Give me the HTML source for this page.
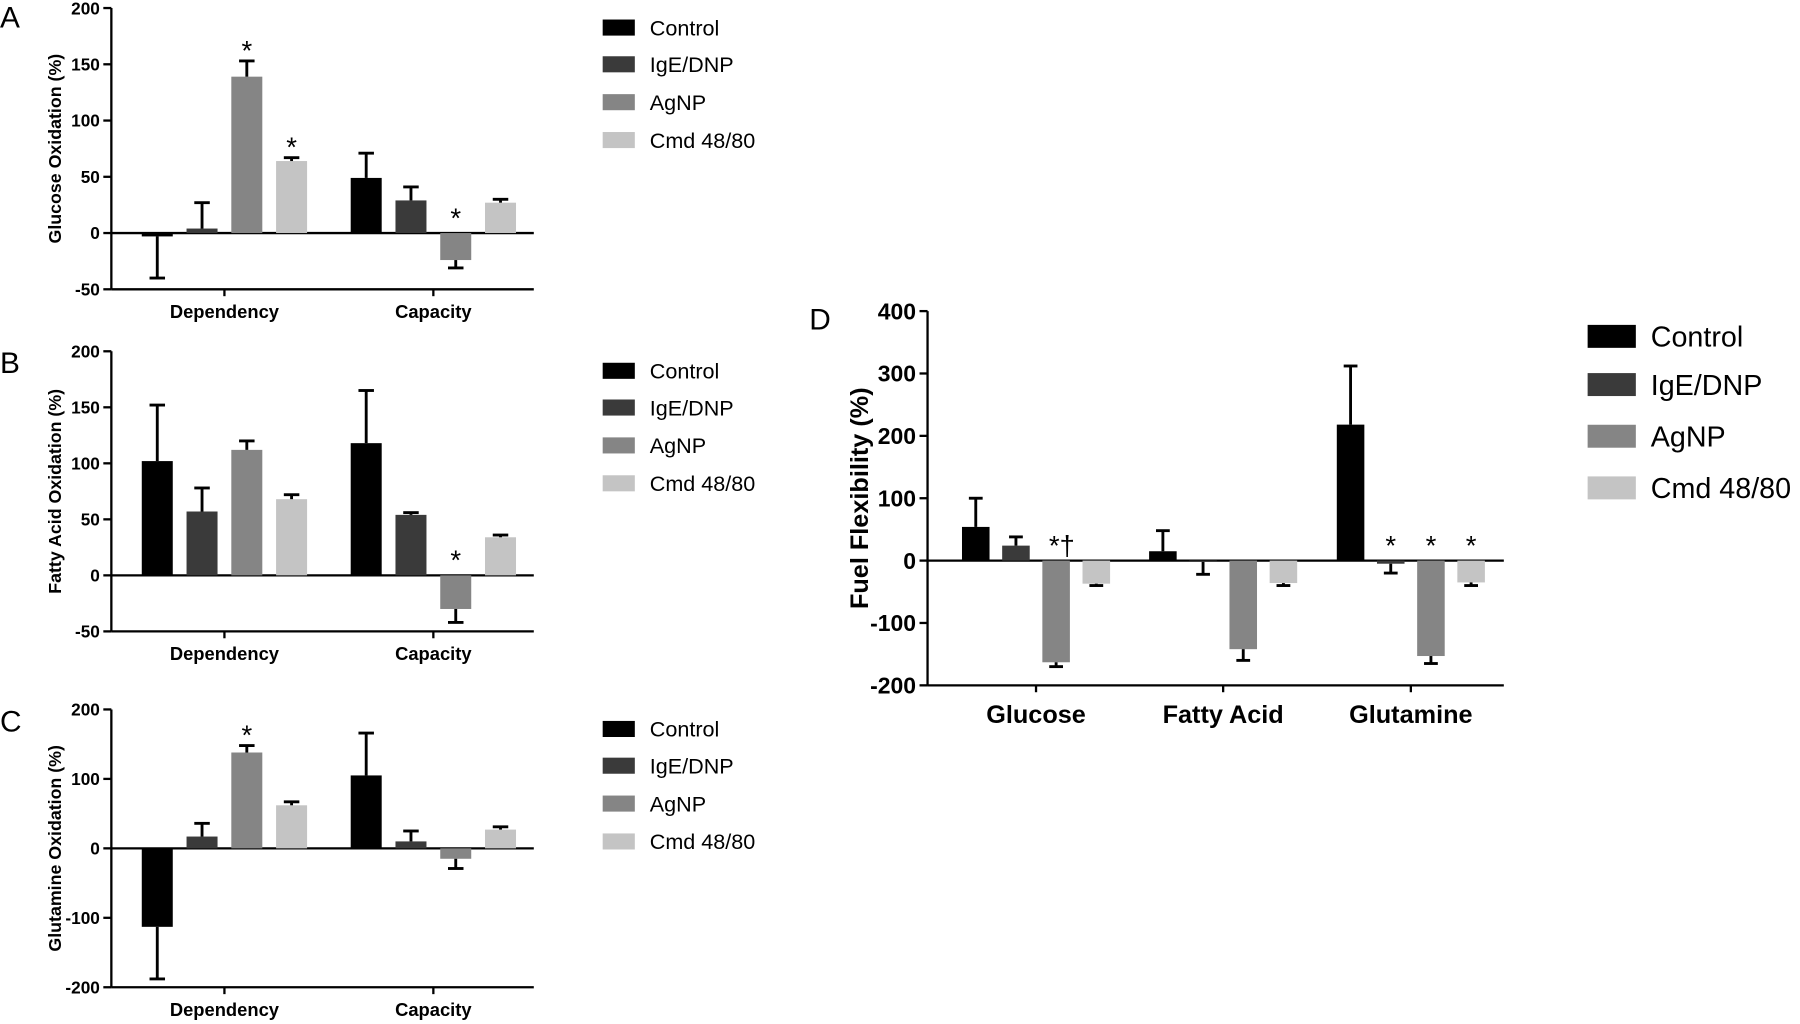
<!DOCTYPE html>
<html><head><meta charset="utf-8"><style>
html,body{margin:0;padding:0;background:#fff}
svg{display:block}
text{font-family:"Liberation Sans",Arial,sans-serif}
</style></head><body>
<svg id="chart" width="1800" height="1024" viewBox="0 0 1568 892" xmlns="http://www.w3.org/2000/svg"></svg>
<script>
const seriesNames = ["Control","IgE/DNP","AgNP","Cmd 48/80"];
const colors = ["#000000","#3a3a3a","#858585","#c4c4c4"];
const smallCats = ["Dependency","Capacity"];
const aVals = [[-3,4,139,64],[49,29,-24,27]];
const aErr = [[-40,27,153,67],[71,41,-31,30]];
const aStars = [[null,null,"*","*"],[null,null,"*",null]];
const bVals = [[102,57,112,68],[118,54,-30,34]];
const bErr = [[152,78,120,72],[165,56,-42,36]];
const bStars = [[null,null,null,null],[null,null,"*",null]];
const cVals = [[-113,17,138,62],[105,10,-15,27]];
const cErr = [[-188,36,148,67],[166,25,-29,31]];
const cStars = [[null,null,"*",null],[null,null,null,null]];
const abTicks = [-50,0,50,100,150,200];
const cTicks = [-200,-100,0,100,200];
const dCats = ["Glucose","Fatty Acid","Glutamine"];
const dVals = [[54,24,-163,-37],[15,-2,-142,-36],[218,-5,-153,-35]];
const dErr = [[100,38,-170,-40],[48,-22,-160,-40],[312,-20,-165,-40]];
const dStars = [[null,null,"*†",null],[null,null,null,null],[null,"*","*","*"]];
const dTicks = [-200,-100,0,100,200,300,400];

const svg = document.getElementById('chart');
const NS = "http://www.w3.org/2000/svg";
function mk(tag, attrs, parent, txt){
  const e = document.createElementNS(NS, tag);
  for (const k in attrs) e.setAttribute(k, attrs[k]);
  if (txt !== undefined) e.textContent = txt;
  (parent||svg).appendChild(e);
  return e;
}

function panel(o){
  const g = mk('g',{});
  
  
  const min = o.ticks[0], max = o.ticks[o.ticks.length-1];
  const y = v => o.yBot - (v-min)/(max-min)*(o.yBot-o.yTop);
  const L = mk('text',{x:o.letter[0],y:o.letter[1],'font-size':o.letterSize,fill:'#000'},g,o.letterText);
   
  const ya = mk('line',{x1:o.x0,x2:o.x0,y1:o.yTop,y2:o.yBot,stroke:'#000','stroke-width':2},g);
   
  o.ticks.forEach(t=>{
    mk('line',{x1:o.x0-7,x2:o.x0,y1:y(t),y2:y(t),stroke:'#000','stroke-width':2},g);
    const tl = mk('text',{x:o.x0-10,y:y(t)+o.tickSize*0.36,'font-size':o.tickSize,'font-weight':'bold','text-anchor':'end'},g,t);
     
  });
  const xa = mk('line',{x1:o.x0,x2:o.x1,y1:o.yBot,y2:o.yBot,stroke:'#000','stroke-width':2},g);
   
  const zl = mk('line',{x1:o.x0,x2:o.x1,y1:y(0),y2:y(0),stroke:'#000','stroke-width':2},g);
   
  const yt = mk('text',{x:0,y:0,'font-size':o.titleSize,'font-weight':'bold','text-anchor':'middle',transform:`translate(${o.titleX},${(o.yTop+o.yBot)/2}) rotate(-90)`},g,o.title);
   
  o.cats.forEach((c,ci)=>{
    const gc = o.groupCenters[ci];
    mk('line',{x1:gc,x2:gc,y1:o.yBot,y2:o.yBot+6,stroke:'#000','stroke-width':2},g);
    const cl = mk('text',{x:gc,y:o.yBot+o.catSize+o.catGap,'font-size':o.catSize,'font-weight':'bold','text-anchor':'middle'},g,c);
     
    o.vals[ci].forEach((v,si)=>{
      const cx = gc + (si-1.5)*o.step;
      const yv = y(v), y0 = y(0);
      const r = mk('rect',{x:cx-o.bw/2,y:Math.min(yv,y0),width:o.bw,height:Math.max(1,Math.abs(yv-y0)),fill:colors[si]},g);
      
      
      const ev = o.err[ci][si], ye = y(ev);
      mk('line',{x1:cx,x2:cx,y1:yv,y2:ye,stroke:'#000','stroke-width':2.5},g);
      mk('line',{x1:cx-o.bw/4,x2:cx+o.bw/4,y1:ye,y2:ye,stroke:'#000','stroke-width':2.5},g);
      const s = o.stars[ci][si];
      if (s){
        const base = ev >= 0 ? ye - 1 : Math.min(yv,y0) - 5;
        const st = mk('text',{x:cx + (s.length>1?5:0),y:base,'font-size':o.starSize,'text-anchor':'middle'},g,s);
         
      }
    });
  });
  seriesNames.forEach((n,si)=>{
    const ly = o.legY[si];
    const sw = mk('rect',{x:o.legX,y:ly-o.swH/2,width:o.swW,height:o.swH,fill:colors[si]},g);
     
    const lt = mk('text',{x:o.legX+o.swW+13,y:ly+o.legSize*0.36,'font-size':o.legSize},g,n);
     
  });
}

const small = {x0:97,x1:465,cats:smallCats,groupCenters:[195.5,377.5],step:39,bw:27,tickSize:15,catSize:16,catGap:9,titleSize:15.5,titleX:53,starSize:24,letterSize:26,legX:525,swW:28,swH:14,legSize:18.8};
panel(Object.assign({},small,{name:'panel-a',letterText:'A',letter:[0,24],yTop:7,yBot:252,ticks:abTicks,vals:aVals,err:aErr,stars:aStars,title:'Glucose Oxidation (%)',legY:[24,56,89,122]}));
panel(Object.assign({},small,{name:'panel-b',letterText:'B',letter:[0,325],yTop:306,yBot:550,ticks:abTicks,vals:bVals,err:bErr,stars:bStars,title:'Fatty Acid Oxidation (%)',legY:[323,355,388,421]}));
panel(Object.assign({},small,{name:'panel-c',letterText:'C',letter:[0,637],yTop:618,yBot:860,ticks:cTicks,vals:cVals,err:cErr,stars:cStars,title:'Glutamine Oxidation (%)',legY:[635,667,700,733]}));
panel({name:'panel-d',letterText:'D',letter:[705,287],letterSize:26,x0:808,x1:1310,yTop:271,yBot:597,ticks:dTicks,cats:dCats,groupCenters:[902.5,1065.5,1229],step:35,bw:24,catGap:11,vals:dVals,err:dErr,stars:dStars,tickSize:20,catSize:22,titleSize:22,titleX:756,title:'Fuel Flexibility (%)',starSize:24,legX:1383,swW:42,swH:20,legSize:25,legY:[293,335,380,425]});
</script>
</body></html>
